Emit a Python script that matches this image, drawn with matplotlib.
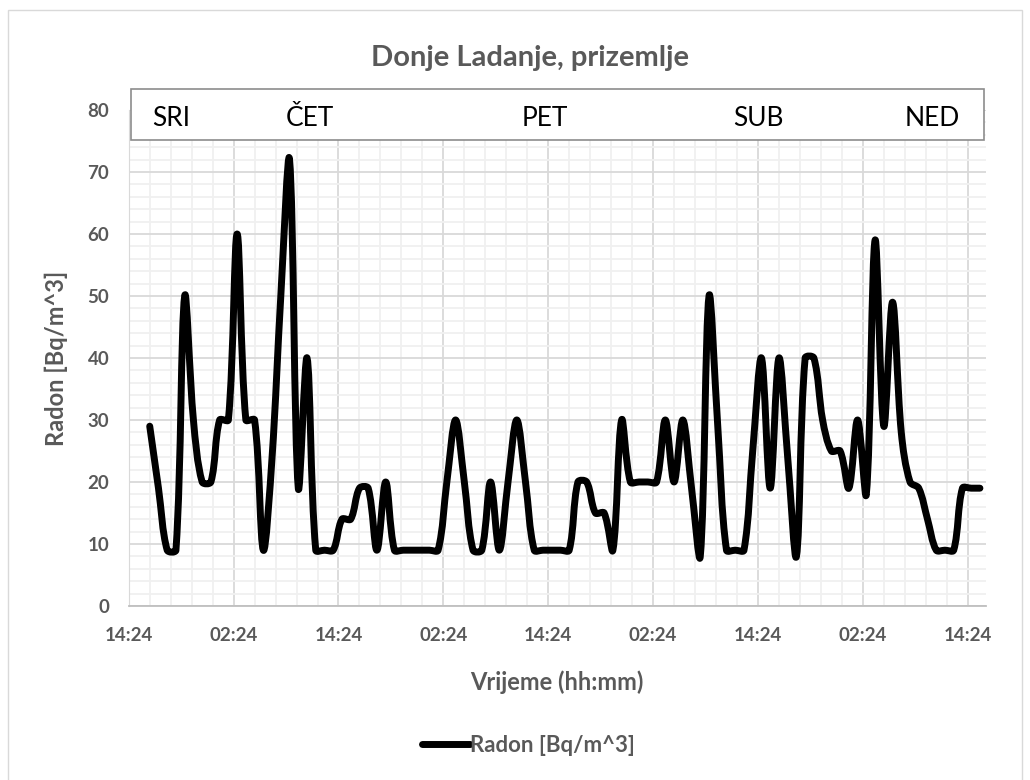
import numpy as np
import matplotlib
matplotlib.use('Agg')
import matplotlib.pyplot as plt
import matplotlib.transforms as mtransforms
from matplotlib.path import Path
from matplotlib.patches import PathPatch, Rectangle
from matplotlib.lines import Line2D

# hourly radon readings, first one 2.4 h after the 14:24 axis start
radon = [29, 19, 9, 9, 50, 30, 20, 20, 30, 30,
         60, 30, 30, 9, 24, 50, 72, 19, 40, 9,
         9, 9, 14, 14, 19, 19, 9, 20, 9, 9,
         9, 9, 9, 9, 20, 30, 20, 9, 9, 20,
         9, 20, 30, 20, 9, 9, 9, 9, 9, 20,
         20, 15, 15, 9, 30, 20, 20, 20, 20, 30,
         20, 30, 19, 8, 50, 29, 9, 9, 9, 25,
         40, 19, 40, 24, 8, 40, 40, 30, 25, 25,
         19, 30, 18, 59, 29, 49, 28, 20, 19, 14,
         9, 9, 9, 19, 19, 19]
start_h = 2.4
hours = start_h + np.arange(len(radon))

tick_hours = np.arange(0, 97, 12)
tick_labels = ['14:24', '02:24'] * 4 + ['14:24']
days = ['SRI', 'ČET', 'PET', 'SUB', 'NED']
day_hours = [4.8, 20.7, 47.6, 72.0, 92.0]

grey = '#595959'
plt.rcParams['font.family'] = ['Lato', 'DejaVu Sans']


def smooth_path(x, y, sx=8.74, sy=6.2):
    # excel-like smoothing: bezier arms proportional to neighbouring segment
    # lengths (worked out in screen-like units so flat runs don't overshoot)
    p = np.column_stack([np.asarray(x) * sx, np.asarray(y, float) * sy])
    n = len(p)
    d = np.hypot(*np.diff(p, axis=0).T)
    t = np.zeros_like(p)
    t[1:-1] = p[2:] - p[:-2]
    t[0] = p[1] - p[0]
    t[-1] = p[-1] - p[-2]
    verts = [p[0]]
    codes = [Path.MOVETO]
    for k in range(n - 1):
        if k == 0:
            a_out = t[0] / 3
        else:
            a_out = t[k] * d[k] / (d[k - 1] + d[k]) / 3
        if k + 1 == n - 1:
            a_in = t[-1] / 3
        else:
            a_in = t[k + 1] * d[k] / (d[k] + d[k + 1]) / 3
        verts += [p[k] + a_out, p[k + 1] - a_in, p[k + 1]]
        codes += [Path.CURVE4] * 3
    verts = np.array(verts) / [sx, sy]
    return Path(verts, codes)


fig = plt.figure(figsize=(10.3, 7.8), dpi=100)
fig.patches.append(Rectangle((8 / 1030, -0.05), 1014 / 1030, 1.05 - 10 / 780,
                             transform=fig.transFigure, fill=False,
                             edgecolor='#d9d9d9', lw=1))

ax = fig.add_axes([0.125, 0.2231, 0.8319, 0.6359])
ax.set_xlim(0, 98.05)
ax.set_ylim(0, 80)

ax.set_xticks(tick_hours)
ax.set_xticks(np.arange(0, 98.05, 2.4), minor=True)
ax.set_xticklabels(tick_labels)
ax.set_yticks(np.arange(0, 81, 10))
ax.set_yticks(np.arange(0, 81, 2), minor=True)
ax.grid(True, which='major', color='#d9d9d9', lw=1.3)
ax.grid(True, which='minor', color='#f0f0f0', lw=1.3)
ax.set_axisbelow(True)
ax.tick_params(which='both', length=0)
ax.tick_params(axis='y', pad=14, labelsize=13.5, labelcolor=grey)
ax.tick_params(axis='x', pad=15, labelsize=13.5, labelcolor=grey)
for lab in ax.get_xticklabels() + ax.get_yticklabels():
    lab.set_fontweight('bold')
for s in ['top', 'right']:
    ax.spines[s].set_visible(False)
ax.spines['left'].set_color('#d9d9d9')
ax.spines['bottom'].set_color('#bfbfbf')
ax.spines['bottom'].set_linewidth(1.3)

ax.add_patch(PathPatch(smooth_path(hours, radon), fill=False, edgecolor='black',
                       lw=5, capstyle='round', joinstyle='round', zorder=3))

ax.set_xlabel('Vrijeme (hh:mm)', fontsize=17, fontweight='bold', color=grey, labelpad=19)
ax.set_ylabel('Radon [Bq/m^3]', fontsize=17, fontweight='bold', color=grey, labelpad=14)
fig.suptitle('Donje Ladanje, prizemlje', x=0.515, y=1 - 58 / 780, va='center',
             fontsize=21, fontweight='bold', color=grey)

# day labels box over the top of the plot area
fig.patches.append(Rectangle((131 / 1030, 1 - 140 / 780), 853 / 1030, 51 / 780,
                             transform=fig.transFigure, facecolor='white',
                             edgecolor='#8c8c8c', lw=1.2, zorder=5))
trans = mtransforms.blended_transform_factory(ax.transData, fig.transFigure)
for d, h in zip(days, day_hours):
    fig.text(h, 1 - 118 / 780, d, transform=trans, ha='center', va='center',
             fontsize=19, color='black', zorder=6)

handle = Line2D([], [], color='black', lw=5, solid_capstyle='round')
leg = fig.legend([handle], ['Radon [Bq/m^3]'], loc='center', bbox_to_anchor=(0.513, 0.044),
                 frameon=False, handlelength=2.2, handletextpad=0.0,
                 prop={'weight': 'bold', 'size': 16})
for t in leg.get_texts():
    t.set_color(grey)

fig.savefig('out.png', dpi=100)
